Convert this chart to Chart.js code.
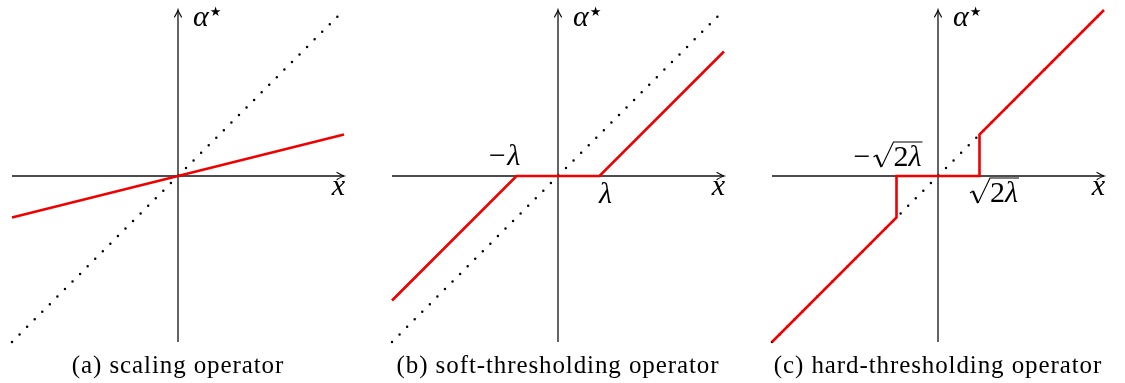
<!DOCTYPE html>
<html lang="en">
<head>
<meta charset="UTF-8">
<title>Thresholding operators</title>
<script src="https://cdn.jsdelivr.net/npm/chart.js"></script>
<style>
    html, body { margin: 0; padding: 0; background: #fff; }
    .panel { position: absolute; top: 0; width: 365px; height: 383px; }
</style>
</head>
<body>
<div class="panel" style="left:0px"><canvas id="scaling" width="365" height="383"></canvas></div>
<div class="panel" style="left:380px"><canvas id="soft" width="365" height="383"></canvas></div>
<div class="panel" style="left:760px"><canvas id="hard" width="365" height="383"></canvas></div>
<script>
// axes and identity line, in data units
const axisX = [-1, 1];
const axisY = [-1, 1];
const identityX = [-1, 1];
const identityY = [-1, 1];

// operator outputs
const scalingX = [-1, 1];
const scalingY = [-0.25, 0.25];
const softX = [-1, -0.25, 0.25, 1];
const softY = [-0.75, 0, 0, 0.75];
const hardX = [-1, -0.25, -0.25, 0.25, 0.25, 1];
const hardY = [-1, -0.25, 0, 0, 0.25, 1];

const lambda = 0.25;
const sqrt2Lambda = 0.25;

const captions = ['(a) scaling operator', '(b) soft-thresholding operator', '(c) hard-thresholding operator'];

const RED = '#f00000';
const INK = '#111';
const MATH = 'italic 30px "Liberation Serif", serif';
const ROMAN = '30px "Liberation Serif", serif';

function pts(xs, ys) { return xs.map((x, i) => ({ x: x, y: ys[i] })); }

// draws the arrowheads, math labels and caption
const decorations = {
    id: 'decorations',
    afterDatasetsDraw(chart, args, opts) {
        const ctx = chart.ctx;
        const sx = chart.scales.x, sy = chart.scales.y;
        const ox = sx.getPixelForValue(0), oy = sy.getPixelForValue(0);
        const xEnd = sx.getPixelForValue(axisX[1]);
        const yEnd = sy.getPixelForValue(axisY[1]);
        ctx.save();
        ctx.strokeStyle = INK;
        ctx.lineWidth = 1.2;
        ctx.lineCap = 'round';
        // arrow tips
        ctx.beginPath();
        ctx.moveTo(xEnd - 7, oy - 3.5); ctx.quadraticCurveTo(xEnd - 2, oy - 0.5, xEnd, oy);
        ctx.quadraticCurveTo(xEnd - 2, oy + 0.5, xEnd - 7, oy + 3.5);
        ctx.moveTo(ox - 3.5, yEnd + 7); ctx.quadraticCurveTo(ox - 0.5, yEnd + 2, ox, yEnd);
        ctx.quadraticCurveTo(ox + 0.5, yEnd + 2, ox + 3.5, yEnd + 7);
        ctx.stroke();

        ctx.fillStyle = '#000';
        ctx.textBaseline = 'alphabetic';
        // axis names
        ctx.font = MATH;
        ctx.textAlign = 'left';
        ctx.fillText('α', ox + 15, yEnd + 16);
        const aw = ctx.measureText('α').width;
        ctx.font = '13px "DejaVu Sans", sans-serif';
        ctx.fillText('★', ox + 16 + aw, yEnd + 6);
        ctx.font = MATH;
        ctx.textAlign = 'right';
        ctx.fillText('x', xEnd + 1, oy + 19);

        // threshold labels
        (opts.marks || []).forEach(m => {
            const px = sx.getPixelForValue(m.value);
            const y = oy + m.dy;
            if (m.sqrt) drawSqrt(ctx, m.neg, px + m.dx, y);
            else {
                ctx.font = MATH;
                ctx.textAlign = 'center';
                const s = (m.neg ? '−' : '') + 'λ';
                ctx.fillText(s, px + m.dx, y);
            }
        });

        // caption
        ctx.font = '25px "Liberation Serif", serif';
        ctx.letterSpacing = '0.9px';
        ctx.textAlign = 'center';
        ctx.fillText(opts.caption, ox, 373);
        ctx.restore();
    }
};

// −√(2λ) with an overbar, centred on cx
function drawSqrt(ctx, neg, cx, y) {
    ctx.textAlign = 'left';
    ctx.font = ROMAN;
    const minus = neg ? '−' : '';
    const wm = neg ? ctx.measureText(minus).width + 2 : 0;
    const wr = 21;
    const w2 = ctx.measureText('2').width;
    ctx.font = MATH;
    const wl = ctx.measureText('λ').width;
    let x = cx - (wm + wr + w2 + wl) / 2;
    ctx.font = ROMAN;
    if (neg) ctx.fillText(minus, x, y);
    x += wm;
    // radical sign
    ctx.save();
    ctx.strokeStyle = '#000';
    ctx.lineCap = 'butt';
    ctx.lineJoin = 'miter';
    ctx.lineWidth = 1.1;
    ctx.beginPath();
    ctx.moveTo(x + 1, y - 9);
    ctx.lineTo(x + 4, y - 11);
    ctx.stroke();
    ctx.lineWidth = 2.1;
    ctx.beginPath();
    ctx.moveTo(x + 4, y - 11);
    ctx.lineTo(x + 9, y + 1);
    ctx.stroke();
    ctx.lineWidth = 1.1;
    ctx.beginPath();
    ctx.moveTo(x + 9, y + 1);
    ctx.lineTo(x + wr, y - 24);
    ctx.lineTo(x + wr + w2 + wl + 1, y - 24);
    ctx.stroke();
    ctx.restore();
    x += wr;
    ctx.fillText('2', x, y); x += w2;
    ctx.font = MATH;
    ctx.fillText('λ', x, y);
}

function makeChart(id, xs, ys, caption, marks) {
    return new Chart(document.getElementById(id), {
        type: 'scatter',
        data: {
            datasets: [
                { data: pts(xs, ys), borderColor: RED, borderWidth: 2.6, showLine: true, pointRadius: 0, borderJoinStyle: 'miter', tension: 0 },
                { data: pts(identityX, identityY), borderColor: '#000', borderWidth: 2.5, borderDash: [0, 10.7], borderCapStyle: 'round', showLine: true, pointRadius: 0 },
                { data: pts(axisX, [0, 0]), borderColor: INK, borderWidth: 1.3, showLine: true, pointRadius: 0 },
                { data: pts([0, 0], axisY), borderColor: INK, borderWidth: 1.3, showLine: true, pointRadius: 0 }
            ]
        },
        options: {
            responsive: false,
            animation: false,
            clip: false,
            layout: { padding: { left: 12, right: 21, top: 10, bottom: 41 } },
            scales: {
                x: { type: 'linear', min: -1, max: 1, display: false },
                y: { type: 'linear', min: -1, max: 1, display: false }
            },
            plugins: {
                legend: { display: false },
                tooltip: { enabled: false },
                decorations: { caption: caption, marks: marks }
            }
        },
        plugins: [decorations]
    });
}

makeChart('scaling', scalingX, scalingY, captions[0], []);
makeChart('soft', softX, softY, captions[1], [
    { value: -lambda, neg: true, dx: -13, dy: -11 },
    { value: lambda, neg: false, dx: 6, dy: 27 }
]);
makeChart('hard', hardX, hardY, captions[2], [
    { value: -sqrt2Lambda, neg: true, sqrt: true, dx: -9, dy: -10 },
    { value: sqrt2Lambda, neg: false, sqrt: true, dx: 14, dy: 26 }
]);
</script>
</body>
</html>
